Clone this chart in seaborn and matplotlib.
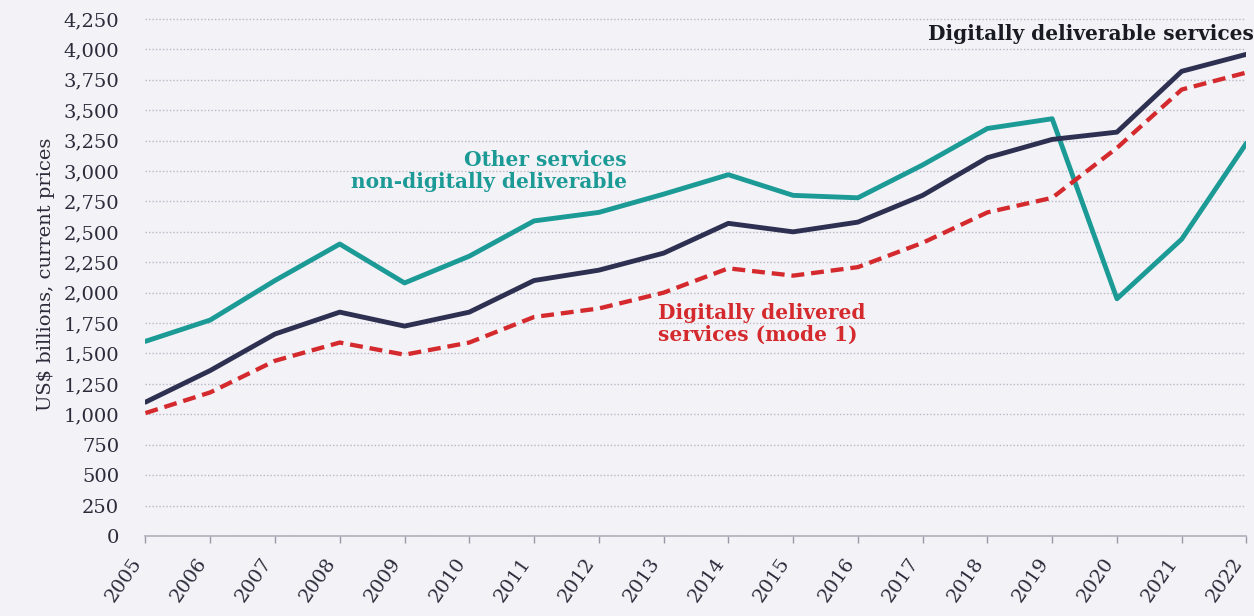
import numpy as np
import pandas as pd
import seaborn as sns
import matplotlib.pyplot as plt
from matplotlib.ticker import FuncFormatter

# Yillar ve seriler (US$ milyar, cari fiyatlar)
years = list(range(2005, 2023))
deliverable = [1100, 1360, 1660, 1840, 1725, 1840, 2100, 2185, 2325, 2570,
               2500, 2580, 2800, 3110, 3260, 3320, 3820, 3960]
other = [1600, 1775, 2100, 2400, 2080, 2300, 2590, 2660, 2810, 2970,
         2800, 2780, 3050, 3350, 3430, 1950, 2440, 3230]
delivered = [1010, 1180, 1440, 1590, 1490, 1590, 1800, 1870, 2000, 2200,
             2140, 2210, 2410, 2660, 2780, 3190, 3670, 3810]

df = pd.DataFrame({"year": years, "deliverable": deliverable,
                   "other": other, "delivered": delivered})

bg = "#f3f2f7"
navy = "#2d3050"
teal = "#1b9a96"
red = "#d42a2d"

sns.set_theme(style="white")
plt.rcParams["font.family"] = ["DejaVu Serif"]

fig = plt.figure(figsize=(12.54, 6.16), dpi=100, facecolor=bg)
ax = fig.add_axes([0.116, 0.13, 0.878, 0.849])
ax.set_facecolor(bg)

sns.lineplot(data=df, x="year", y="other", color=teal, linewidth=3.5, ax=ax)
sns.lineplot(data=df, x="year", y="deliverable", color=navy, linewidth=3.5, ax=ax)
sns.lineplot(data=df, x="year", y="delivered", color=red, linewidth=3.1, ax=ax,
             linestyle=(0, (3, 1.6)))

ax.set_xlim(2005, 2022)
ax.set_ylim(0, 4300)
ax.set_yticks(np.arange(0, 4251, 250))
ax.yaxis.set_major_formatter(FuncFormatter(lambda v, p: f"{int(v):,}"))
ax.set_xticks(years)
ax.set_xticklabels([str(y) for y in years], rotation=55, ha="right",
                   va="bottom", rotation_mode="anchor")
ax.tick_params(axis="x", labelsize=14, colors="#9a9aa6", labelcolor="#2b2b3a",
               length=5, width=1, pad=16, direction="out", bottom=True)
ax.tick_params(axis="y", labelsize=14, labelcolor="#2b2b3a", length=0, pad=19)

ax.grid(axis="y", color="#b8b8c4", linestyle=(0, (1, 1.5)), linewidth=1)
ax.grid(axis="x", visible=False)
for s in ["left", "right", "top"]:
    ax.spines[s].set_visible(False)
ax.spines["bottom"].set_color("#b0b0bc")
ax.spines["bottom"].set_linewidth(1.2)
for lbl in ax.get_xticklabels():
    lbl.set_clip_on(False)

ax.set_xlabel("")
ax.set_ylabel("US$ billions, current prices", fontsize=14, color="#2b2b3a",
              labelpad=6)

ax.text(2012.43, 3000, "Other services\nnon-digitally deliverable", color=teal,
        fontsize=14.5, fontweight="bold", ha="right", va="center", linespacing=1.1)
ax.text(2012.92, 1740, "Digitally delivered\nservices (mode 1)", color=red,
        fontsize=14.5, fontweight="bold", ha="left", va="center", linespacing=1.1)
ax.text(2022.12, 4130, "Digitally deliverable services", color="#1a1a22",
        fontsize=14.5, fontweight="bold", ha="right", va="center")

fig.savefig("out.png", dpi=100, facecolor=bg)
